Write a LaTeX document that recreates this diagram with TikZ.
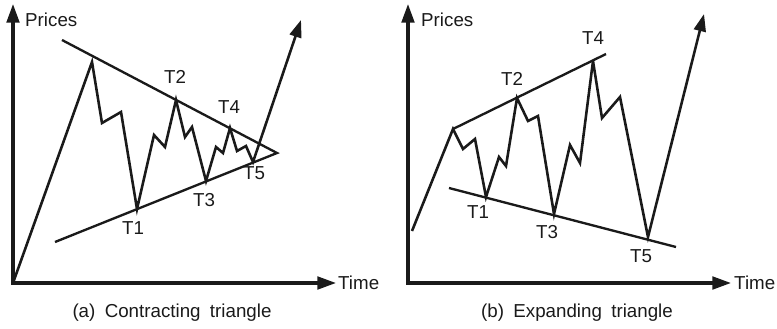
\documentclass[tikz,border=0pt]{standalone}
\usepackage{fontspec}
\setmainfont{Liberation Sans}
\usetikzlibrary{arrows.meta}
\definecolor{ink}{HTML}{1A1A1A}
\tikzset{
  axis/.style={line width=2.6pt,draw=ink,{Triangle[length=5.6mm,width=3.8mm]}-{Triangle[length=5.6mm,width=3.8mm]}},
  price/.style={line width=2.2pt,draw=ink,line join=miter,miter limit=6},
  breakout/.style={price,-{Triangle[length=5.2mm,width=3.6mm]}},
  trend/.style={line width=2.0pt,draw=ink},
  lbl/.style={font=\fontsize{16}{18}\selectfont,text=ink,inner sep=0pt},
  caption/.style={lbl,anchor=center}
}
\begin{document}
\begin{tikzpicture}[x=0.03cm,y=-0.03cm]
  \useasboundingbox (0,0) rectangle (777,328);

  % (a) contracting triangle
  \coordinate (a-o) at (13,283);
  \coordinate (a-ytip) at (13,4);
  \coordinate (a-xtip) at (336,283);
  \coordinate (a-top) at (92,62);
  \coordinate (a-t1) at (137,209);
  \coordinate (a-t2) at (176,100);
  \coordinate (a-t3) at (206,181);
  \coordinate (a-t4) at (230,128);
  \coordinate (a-t5) at (253,162);
  \coordinate (a-up) at (62,40);
  \coordinate (a-lo) at (55,242);
  \coordinate (a-apex) at (277,153);
  \coordinate (a-end) at (301,20);

  \draw[axis] (a-ytip) -- (a-o) -- (a-xtip);
  \node[lbl,anchor=west] (a-prices) at (25,20) {Prices};
  \node[lbl,anchor=west] (a-time) at (338,283) {Time};

  \draw[trend] (a-up) -- (a-apex) -- (a-lo);
  \draw[breakout] (a-o) -- (a-top) -- (102,123) -- (121,112) -- (a-t1)
    -- (154,135) -- (165,147) -- (a-t2) -- (185,137) -- (192,127) -- (a-t3)
    -- (216,147) -- (223,153) -- (a-t4) -- (237,151) -- (246,146) -- (a-t5)
    -- (a-end);

  \node[lbl] (a-l1) at (133,228) {T1};
  \node[lbl] (a-l2) at (175,77) {T2};
  \node[lbl] (a-l3) at (204,200) {T3};
  \node[lbl] (a-l4) at (229,107) {T4};
  \node[lbl] (a-l5) at (254,173) {T5};
  \node[caption] (a-cap) at (172,313) {(a)\enspace Contracting\enspace triangle};

  % (b) expanding triangle
  \coordinate (b-o) at (408,283);
  \coordinate (b-ytip) at (408,4);
  \coordinate (b-xtip) at (731,283);
  \coordinate (b-start) at (412,231);
  \coordinate (b-top) at (453,129);
  \coordinate (b-t1) at (486,197);
  \coordinate (b-t2) at (517,98);
  \coordinate (b-t3) at (554,214);
  \coordinate (b-t4) at (593,61);
  \coordinate (b-t5) at (648,237);
  \coordinate (b-up) at (606,54);
  \coordinate (b-lo1) at (449,188);
  \coordinate (b-lo2) at (676,247);
  \coordinate (b-end) at (704,14);

  \draw[axis] (b-ytip) -- (b-o) -- (b-xtip);
  \node[lbl,anchor=west] (b-prices) at (421,20) {Prices};
  \node[lbl,anchor=west] (b-time) at (734,283) {Time};

  \draw[trend] (b-top) -- (b-up);
  \draw[trend] (b-lo1) -- (b-lo2);
  \draw[breakout] (b-start) -- (b-top) -- (463,149) -- (475,139) -- (b-t1)
    -- (499,157) -- (506,166) -- (b-t2) -- (528,121) -- (538,116) -- (b-t3)
    -- (570,145) -- (580,163) -- (b-t4) -- (602,118) -- (620,97) -- (b-t5)
    -- (b-end);

  \node[lbl] (b-l1) at (478,212) {T1};
  \node[lbl] (b-l2) at (512,79) {T2};
  \node[lbl] (b-l3) at (547,232) {T3};
  \node[lbl] (b-l4) at (593,38) {T4};
  \node[lbl] (b-l5) at (641,256) {T5};
  \node[caption] (b-cap) at (577,313) {(b)\enspace Expanding\enspace triangle};
\end{tikzpicture}
\end{document}
